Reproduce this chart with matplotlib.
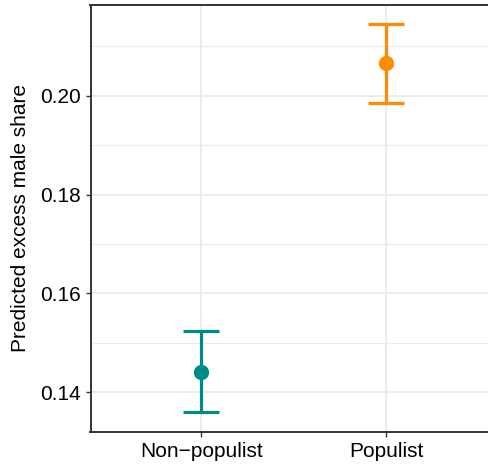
import matplotlib.pyplot as plt
from matplotlib.ticker import MultipleLocator

plt.rcParams['font.family'] = ['Liberation Sans', 'DejaVu Sans']

groups = ['Non\u2212populist', 'Populist']
estimates = [0.1441, 0.2067]
lower = [0.1360, 0.1986]
upper = [0.1524, 0.2146]
colors = ['#008B8B', '#FF8C00']

fig = plt.figure(figsize=(4.88, 4.65), dpi=100)
# panel runs past the right edge of the picture, like the reference crop
ax = fig.add_axes([90.5 / 488, 33 / 465, 407 / 488, 427 / 465])

x = list(range(len(groups)))
for i in x:
    ax.errorbar(x[i], estimates[i],
                yerr=[[estimates[i] - lower[i]], [upper[i] - estimates[i]]],
                fmt='o', color=colors[i], markersize=10,
                elinewidth=2.3, capsize=13.3, capthick=2.3, zorder=3)

ax.set_xlim(-0.6, 1.6)
ax.set_ylim(0.13196, 0.2184)
ax.set_xticks(x)
ax.set_xticklabels(groups)
ax.yaxis.set_major_locator(MultipleLocator(0.02))
ax.yaxis.set_minor_locator(MultipleLocator(0.01))
ax.yaxis.set_major_formatter(plt.FuncFormatter(lambda v, p: f'{v:.2f}'))

ax.grid(which='major', color='#EBEBEB', linewidth=1.3)
ax.grid(which='minor', axis='y', color='#EBEBEB', linewidth=0.8)
ax.set_axisbelow(True)

for s in ax.spines.values():
    s.set_color('#333333')
    s.set_linewidth(1.4)

ax.tick_params(axis='both', which='major', length=3.5, width=1, color='#333333',
               labelsize=15, labelcolor='black', pad=3.5)
ax.tick_params(axis='y', which='minor', length=0)

ax.set_ylabel('Predicted excess male share', fontsize=15, labelpad=7)

plt.savefig('out.png', dpi=100)
